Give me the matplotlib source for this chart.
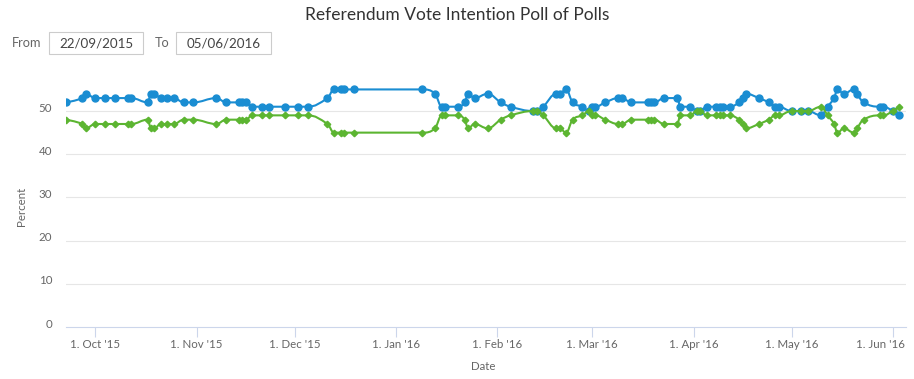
import matplotlib
matplotlib.use("Agg")
import matplotlib.pyplot as plt
import matplotlib.dates as mdates
import matplotlib.transforms as mtransforms
from matplotlib.path import Path
from matplotlib.patches import PathPatch, Rectangle
import datetime as dt

plt.rcParams['font.family'] = ['Lato', 'DejaVu Sans']

# ---------------- data ----------------
poll_dates = [
    "2015-09-22", "2015-09-27", "2015-09-28", "2015-10-01", "2015-10-04", "2015-10-07",
    "2015-10-11", "2015-10-12", "2015-10-17", "2015-10-18", "2015-10-19", "2015-10-21",
    "2015-10-23", "2015-10-25", "2015-10-28", "2015-10-31", "2015-11-07", "2015-11-10",
    "2015-11-14", "2015-11-15", "2015-11-16", "2015-11-18", "2015-11-21", "2015-11-23",
    "2015-11-28", "2015-12-02", "2015-12-05", "2015-12-11", "2015-12-13", "2015-12-15",
    "2015-12-16", "2015-12-19", "2016-01-09", "2016-01-13", "2016-01-15", "2016-01-16",
    "2016-01-20", "2016-01-22", "2016-01-23", "2016-01-25", "2016-01-29", "2016-02-02",
    "2016-02-05", "2016-02-12", "2016-02-13", "2016-02-15", "2016-02-19", "2016-02-20",
    "2016-02-22", "2016-02-24", "2016-02-27", "2016-02-29", "2016-03-01", "2016-03-02",
    "2016-03-05", "2016-03-09", "2016-03-10", "2016-03-13", "2016-03-18", "2016-03-19",
    "2016-03-20", "2016-03-23", "2016-03-27", "2016-03-28", "2016-03-31", "2016-04-02",
    "2016-04-03", "2016-04-05", "2016-04-08", "2016-04-09", "2016-04-10", "2016-04-12",
    "2016-04-15", "2016-04-16", "2016-04-17", "2016-04-21", "2016-04-24", "2016-04-26",
    "2016-04-27", "2016-05-01", "2016-05-04", "2016-05-06", "2016-05-10", "2016-05-12",
    "2016-05-14", "2016-05-15", "2016-05-17", "2016-05-20", "2016-05-21", "2016-05-23",
    "2016-05-28", "2016-05-29", "2016-06-01", "2016-06-03",
]
blue_values = [
    52, 53, 54, 53, 53, 53, 53, 53, 52, 54, 54, 53,
    53, 53, 52, 52, 53, 52, 52, 52, 52, 51, 51, 51,
    51, 51, 51, 53, 55, 55, 55, 55, 55, 54, 51, 51,
    51, 52, 54, 53, 54, 52, 51, 50, 50, 51, 54, 54,
    55, 52, 51, 50, 51, 51, 52, 53, 53, 52, 52, 52,
    52, 53, 53, 51, 51, 50, 50, 51, 51, 51, 51, 51,
    52, 53, 54, 53, 52, 51, 51, 50, 50, 50, 49, 51,
    53, 55, 54, 55, 54, 52, 51, 51, 50, 49,
]
green_values = [
    48, 47, 46, 47, 47, 47, 47, 47, 48, 46, 46, 47,
    47, 47, 48, 48, 47, 48, 48, 48, 48, 49, 49, 49,
    49, 49, 49, 47, 45, 45, 45, 45, 45, 46, 49, 49,
    49, 48, 46, 47, 46, 48, 49, 50, 50, 49, 46, 46,
    45, 48, 49, 50, 49, 49, 48, 47, 47, 48, 48, 48,
    48, 47, 47, 49, 49, 50, 50, 49, 49, 49, 49, 49,
    48, 47, 46, 47, 48, 49, 49, 50, 50, 50, 51, 49,
    47, 45, 46, 45, 46, 48, 49, 49, 50, 51,
]
x_tick_dates = ["2015-10-01", "2015-11-01", "2015-12-01", "2016-01-01", "2016-02-01",
                "2016-03-01", "2016-04-01", "2016-05-01", "2016-06-01"]
x_tick_labels = ["1. Oct '15", "1. Nov '15", "1. Dec '15", "1. Jan '16", "1. Feb '16",
                 "1. Mar '16", "1. Apr '16", "1. May '16", "1. Jun '16"]
y_ticks = [0, 10, 20, 30, 40, 50]
range_from = "22/09/2015"
range_to = "05/06/2016"
title = "Referendum Vote Intention Poll of Polls"

# ---------------- helpers ----------------
def to_num(s):
    return mdates.date2num(dt.datetime.strptime(s, "%Y-%m-%d"))

def hc_spline(xs, ys, smoothing=1.5):
    n = len(xs)
    denom = smoothing + 1
    left = [None] * n
    right = [None] * n
    for i in range(n):
        x, y = xs[i], ys[i]
        if 0 < i < n - 1:
            lx, ly = xs[i - 1], ys[i - 1]
            nx, ny = xs[i + 1], ys[i + 1]
            lcx = (smoothing * x + lx) / denom
            lcy = (smoothing * y + ly) / denom
            rcx = (smoothing * x + nx) / denom
            rcy = (smoothing * y + ny) / denom
            corr = 0.0
            if rcx != lcx:
                corr = ((rcy - lcy) * (rcx - x)) / (rcx - lcx) + y - rcy
            lcy += corr
            rcy += corr
            if lcy > ly and lcy > y:
                lcy = max(ly, y); rcy = 2 * y - lcy
            elif lcy < ly and lcy < y:
                lcy = min(ly, y); rcy = 2 * y - lcy
            if rcy > ny and rcy > y:
                rcy = max(ny, y); lcy = 2 * y - rcy
            elif rcy < ny and rcy < y:
                rcy = min(ny, y); lcy = 2 * y - rcy
            left[i] = (lcx, lcy)
            right[i] = (rcx, rcy)
        else:
            left[i] = (x, y)
            right[i] = (x, y)
    verts = [(xs[0], ys[0])]
    codes = [Path.MOVETO]
    for i in range(1, n):
        verts += [right[i - 1], left[i], (xs[i], ys[i])]
        codes += [Path.CURVE4] * 3
    return Path(verts, codes)

# ---------------- figure ----------------
W, H = 914, 379
fig = plt.figure(figsize=(W / 100, H / 100), dpi=100)
left_px, right_px, top_px, bottom_px = 66, 906, 70, 327
ax = fig.add_axes([left_px / W, 1 - bottom_px / H, (right_px - left_px) / W, (bottom_px - top_px) / H])

xn = [to_num(d) for d in poll_dates]
blue = '#1a8dd2'
green = '#5cb531'

ax.add_patch(PathPatch(hc_spline(xn, blue_values), fill=False, edgecolor=blue, lw=1.5, zorder=3,
                       capstyle='round', joinstyle='round'))
ax.plot(xn, blue_values, ls='none', marker='o', ms=5.0, color=blue, zorder=4)
ax.add_patch(PathPatch(hc_spline(xn, green_values), fill=False, edgecolor=green, lw=1.5, zorder=5,
                       capstyle='round', joinstyle='round'))
ax.plot(xn, green_values, ls='none', marker='D', ms=3.3, color=green, zorder=6)

ax.set_xlim(to_num("2015-09-22"), to_num("2016-06-05"))
ax.set_ylim(0, 59.5)

for sp in ['top', 'right', 'left']:
    ax.spines[sp].set_visible(False)
ax.spines['bottom'].set_color('#ccd6eb')
ax.spines['bottom'].set_linewidth(0.8)

ax.set_yticks(y_ticks)
ax.set_yticklabels([str(v) for v in y_ticks])
ax.tick_params(axis='y', length=0, pad=10, labelsize=8.3, labelcolor='#666666')
up = mtransforms.ScaledTranslation(0, 3 / 100, fig.dpi_scale_trans)
for lab in ax.get_yticklabels():
    lab.set_verticalalignment('center')
    lab.set_transform(lab.get_transform() + up)
ax.grid(axis='y', color='#e6e6e6', lw=0.8)
ax.set_axisbelow(True)
for gl in ax.get_ygridlines()[:1]:
    gl.set_visible(False)

ax.set_xticks([to_num(d) for d in x_tick_dates])
ax.set_xticklabels(x_tick_labels)
ax.tick_params(axis='x', direction='out', length=7, width=0.8, color='#ccd6eb', pad=2,
               labelsize=8.3, labelcolor='#666666')
last = ax.get_xticklabels()[-1]
last.set_horizontalalignment('right')
last.set_transform(last.get_transform() +
                   mtransforms.ScaledTranslation(12 / 100, 0, fig.dpi_scale_trans))

fig.text(0.5, 1 - 15 / H, title, ha='center', va='center', fontsize=12.5, color='#333333')
fig.text(483 / W, 1 - 366 / H, "Date", ha='center', va='center', fontsize=8.3, color='#666666')
fig.text(22 / W, 1 - 206 / H, "Percent", ha='center', va='center', rotation=90, fontsize=8.3,
         color='#666666')

# range selector
fig.text(12 / W, 1 - 43 / H, "From", ha='left', va='center', fontsize=9.2, color='#666666')
fig.text(155 / W, 1 - 43 / H, "To", ha='left', va='center', fontsize=9.2, color='#666666')
for (x0, x1, txt) in [(49, 143, range_from), (176, 271, range_to)]:
    fig.patches.append(Rectangle((x0 / W, 1 - 54 / H), (x1 - x0) / W, 22 / H,
                                 transform=fig.transFigure, fill=False,
                                 edgecolor='#cccccc', lw=0.8))
    fig.text((x0 + x1) / 2 / W, 1 - 43 / H, txt, ha='center', va='center', fontsize=9.6,
             color='#444444')

fig.savefig("out.png", dpi=100)
